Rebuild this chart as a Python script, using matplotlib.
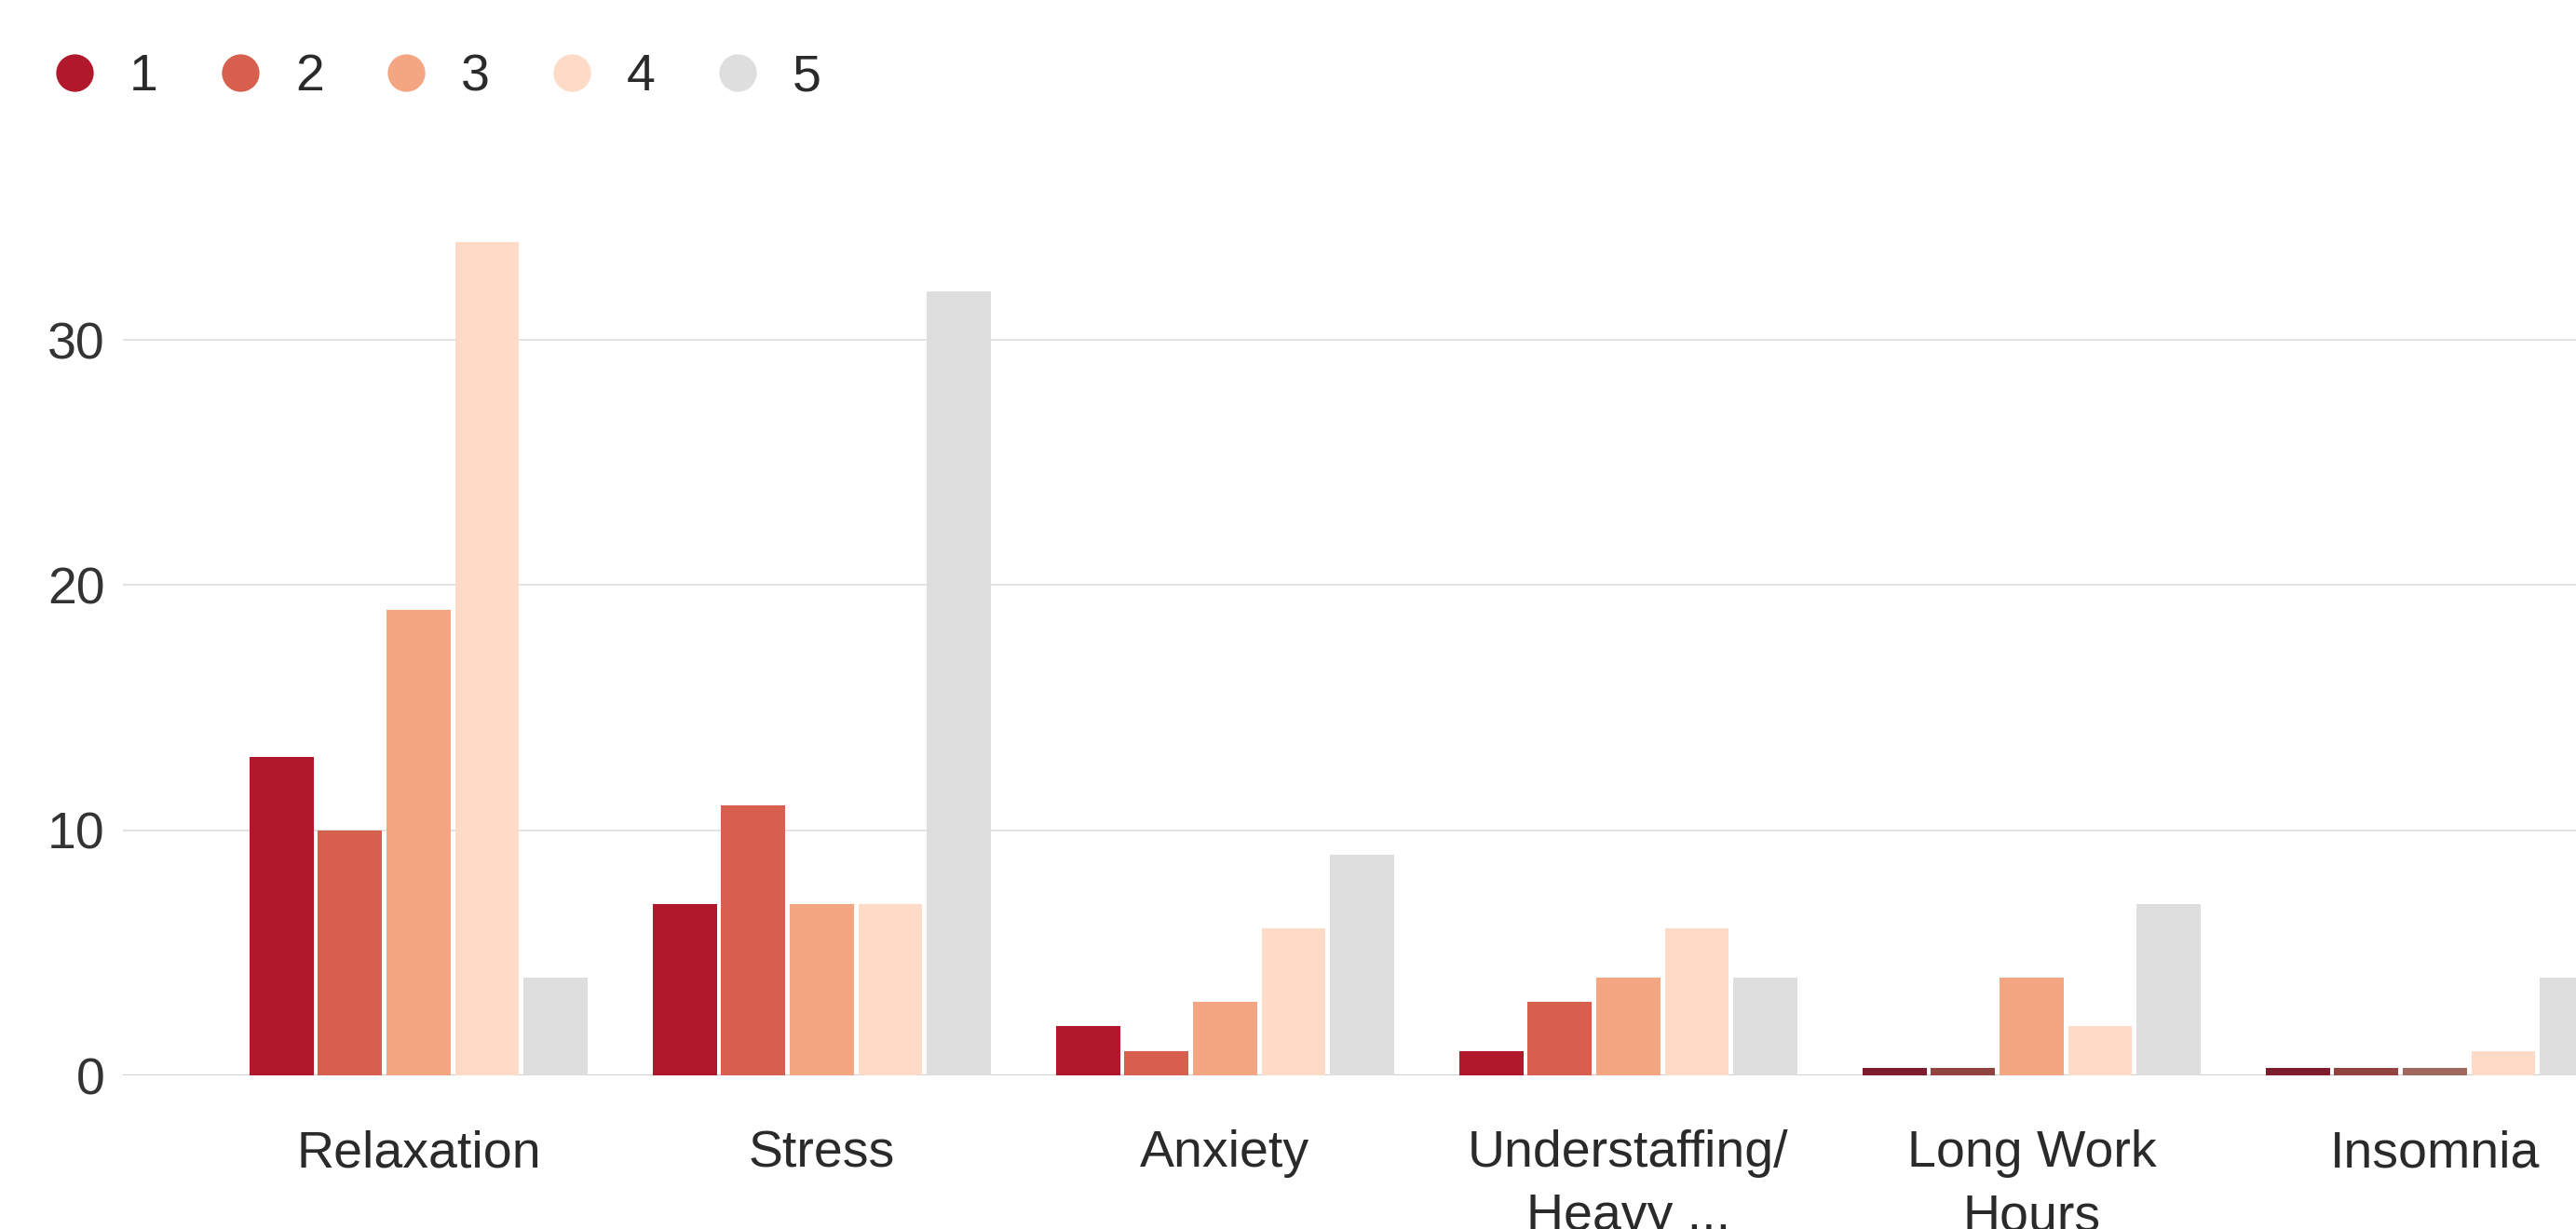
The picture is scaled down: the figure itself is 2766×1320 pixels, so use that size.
import numpy as np
import matplotlib
matplotlib.use('Agg')
import matplotlib.pyplot as plt
from matplotlib.lines import Line2D
from matplotlib.colors import to_rgb

categories = ['Relaxation', 'Stress', 'Anxiety', 'Understaffing/\nHeavy ...',
              'Long Work\nHours', 'Insomnia']
series_names = ['1', '2', '3', '4', '5']
rating_1 = [13, 7, 2, 1, 0, 0]
rating_2 = [10, 11, 1, 3, 0, 0]
rating_3 = [19, 7, 3, 4, 4, 0]
rating_4 = [34, 7, 6, 6, 2, 1]
rating_5 = [4, 32, 9, 4, 7, 4]
colors = ['#b2182b', '#d6604d', '#f4a582', '#fddbc7', '#dedede']

plt.rcParams['font.family'] = ['Liberation Sans', 'DejaVu Sans']

fig = plt.figure(figsize=(27.66, 13.2), dpi=100)
ax = fig.add_axes([0.0477, 0.125, 0.9523, 0.728])

x = np.arange(len(categories))
step = 0.17
width = 0.159
stub = 0.3  # zero values are shown as a thin stub
for i, vals in enumerate([rating_1, rating_2, rating_3, rating_4, rating_5]):
    vals = np.array(vals, dtype=float)
    base = np.array(to_rgb(colors[i]))
    dark = tuple(base * 0.55 + np.array(to_rgb('#3c2030')) * 0.45)
    bar_colors = [dark if v == 0 else colors[i] for v in vals]
    ax.bar(x + (i - 2) * step, np.where(vals == 0, stub, vals), width,
           color=bar_colors, zorder=3, linewidth=0)

ax.set_xlim(-0.733, 5.35)
ax.set_ylim(0, 36.5)
ax.set_yticks([0, 10, 20, 30])
ax.set_xticks(x)
ax.set_xticklabels(categories, linespacing=1.4)
ax.tick_params(axis='x', length=0, pad=42, labelsize=40, labelcolor='#2a2a2a')
ax.tick_params(axis='y', length=0, pad=14, labelsize=40, labelcolor='#333333')
ax.grid(axis='y', color='#e4e4e4', linewidth=1.4, zorder=0)
ax.axhline(0, color='#d2d2d2', linewidth=1.6, zorder=2)
for s in ax.spines.values():
    s.set_visible(False)

handles = [Line2D([], [], marker='o', linestyle='', markersize=29,
                  markerfacecolor=c, markeredgewidth=0) for c in colors]
fig.legend(handles, series_names, loc='center left', bbox_to_anchor=(0.0188, 0.937),
           ncol=5, frameon=False, fontsize=40, handlelength=1.0, handletextpad=0.56,
           columnspacing=1.09, borderpad=0, borderaxespad=0, labelcolor='#2a2a2a')

fig.savefig('out.png', dpi=100, facecolor='white')
